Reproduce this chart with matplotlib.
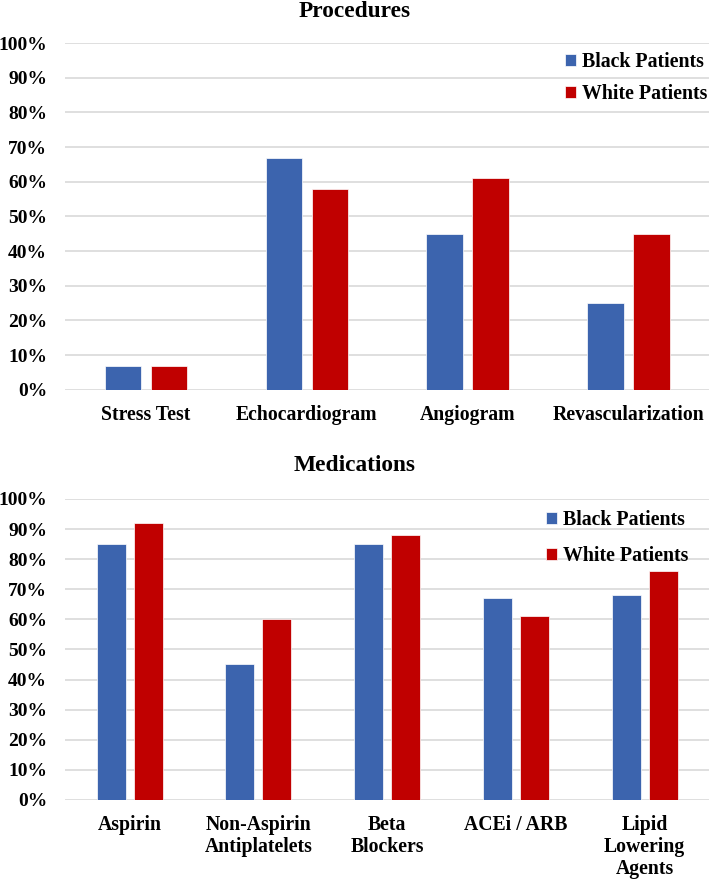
import matplotlib.pyplot as plt
import numpy as np

proc_labels = ["Stress Test", "Echocardiogram", "Angiogram", "Revascularization"]
proc_black = [7, 67, 45, 25]
proc_white = [7, 58, 61, 45]

med_labels = ["Aspirin", "Non-Aspirin\nAntiplatelets", "Beta\nBlockers",
              "ACEi / ARB", "Lipid\nLowering\nAgents"]
med_black = [85, 45, 85, 67, 68]
med_white = [92, 60, 88, 61, 76]

series_names = ["Black Patients", "White Patients"]
blue = "#3C64AE"
red = "#C00000"

plt.rcParams["font.family"] = ["Liberation Serif", "DejaVu Serif"]
plt.rcParams["font.weight"] = "bold"

fig = plt.figure(figsize=(7.09, 8.80), dpi=100)
ax1 = fig.add_axes([0.092, 0.557, 0.908, 0.394])
ax2 = fig.add_axes([0.092, 0.091, 0.908, 0.342])


def draw(ax, labels, black, white, legend_anchor, legend_spacing):
    x = np.arange(len(labels))
    w = 0.225
    off = 0.143
    ax.bar(x - off, black, w, color=blue, edgecolor="white", linewidth=0.5,
           label=series_names[0], zorder=3)
    ax.bar(x + off, white, w, color=red, edgecolor="white", linewidth=0.5,
           label=series_names[1], zorder=3)
    ax.set_xlim(-0.5, len(labels) - 0.5)
    ax.set_ylim(0, 100)
    ax.set_yticks(np.arange(0, 101, 10))
    ax.set_yticklabels([f"{v}%" for v in range(0, 101, 10)], fontsize=14,
                       fontweight="bold")
    ax.set_xticks(x)
    ax.set_xticklabels(labels, fontsize=14.2, fontweight="bold",
                       linespacing=1.12, va="top")
    ax.tick_params(axis="both", length=0)
    ax.tick_params(axis="x", pad=11)
    ax.tick_params(axis="y", pad=13)
    ax.grid(axis="y", color="#D9D9D9", linewidth=1.2, zorder=0)
    for s in ax.spines.values():
        s.set_visible(False)
    leg = ax.legend(loc="upper right", bbox_to_anchor=legend_anchor,
                    frameon=False, fontsize=14.3, handlelength=0.55,
                    handleheight=0.55, handletextpad=0.3,
                    labelspacing=legend_spacing)
    return leg


draw(ax1, proc_labels, proc_black, proc_white, (1.025, 1.025), 0.6)
draw(ax2, med_labels, med_black, med_white, (0.995, 1.023), 0.8)

fig.text(0.5, 0.987, "Procedures", ha="center", va="center",
         fontsize=16.8, fontweight="bold")
fig.text(0.5, 0.471, "Medications", ha="center", va="center",
         fontsize=16.8, fontweight="bold")

fig.savefig("out.png", dpi=100)
